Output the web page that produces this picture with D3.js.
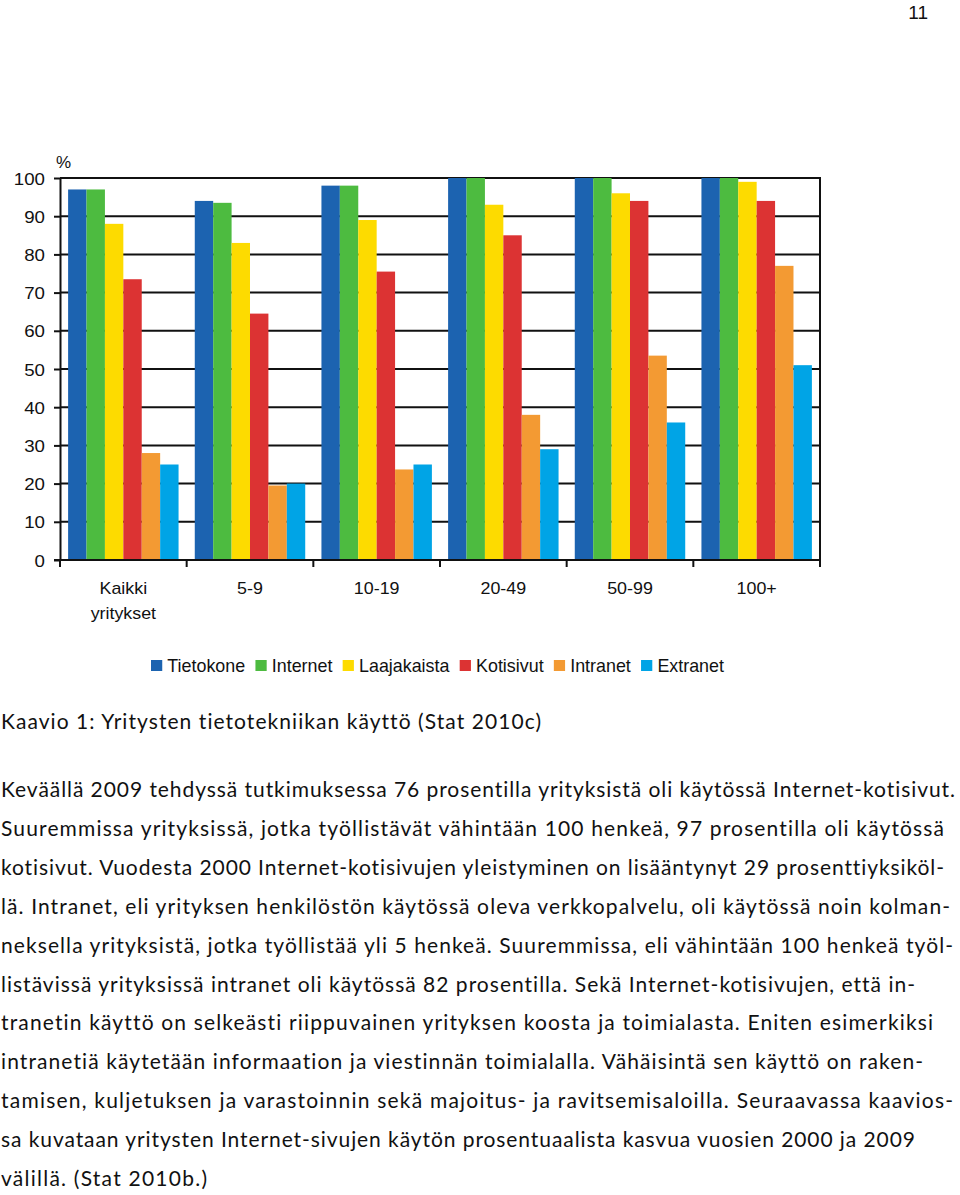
<!DOCTYPE html>
<html>
<head>
<meta charset="utf-8">
<script src="https://cdn.jsdelivr.net/npm/d3@7"></script>
<style>
  html, body { margin: 0; padding: 0; background: #fff; }
  svg { display: block; }
  .prose { font-variant-ligatures: none; font-feature-settings: "liga" 0, "clig" 0, "dlig" 0; }
</style>
</head>
<body>
<div id="chart"></div>
<script>
// ---------- data ----------
const categories = ["Kaikki yritykset", "5-9", "10-19", "20-49", "50-99", "100+"];
const seriesNames = ["Tietokone", "Internet", "Laajakaista", "Kotisivut", "Intranet", "Extranet"];
const tietokone   = [97, 94, 98, 100, 100, 100];
const internet    = [97, 93.5, 98, 100, 100, 100];
const laajakaista = [88, 83, 89, 93, 96, 99];
const kotisivut   = [73.5, 64.5, 75.5, 85, 94, 94];
const intranet    = [28, 19.5, 23.7, 38, 53.5, 77];
const extranet    = [25, 20, 25, 29, 36, 51];
const yTicks = [0, 10, 20, 30, 40, 50, 60, 70, 80, 90, 100];
const colors = ["#1c63b0", "#4dbb40", "#fddb00", "#dc3333", "#f39a33", "#00a4e6"];

const caption = "Kaavio 1: Yritysten tietotekniikan käyttö (Stat 2010c)";
const bodyLines = [
  "Keväällä 2009 tehdyssä tutkimuksessa 76 prosentilla  yrityksistä oli käytössä Internet-kotisivut.",
  "Suuremmissa yrityksissä, jotka työllistävät vähintään 100 henkeä, 97 prosentilla oli käytössä",
  "kotisivut. Vuodesta 2000 Internet-kotisivujen yleistyminen on lisääntynyt 29 prosenttiyksiköl-",
  "lä. Intranet, eli yrityksen henkilöstön käytössä oleva verkkopalvelu, oli käytössä noin kolman-",
  "neksella yrityksistä, jotka työllistää yli 5 henkeä. Suuremmissa, eli vähintään 100 henkeä työl-",
  "listävissä yrityksissä intranet oli käytössä 82 prosentilla. Sekä Internet-kotisivujen, että in-",
  "tranetin käyttö on selkeästi riippuvainen yrityksen koosta ja toimialasta. Eniten esimerkiksi",
  "intranetiä käytetään informaation ja viestinnän toimialalla. Vähäisintä sen käyttö on raken-",
  "tamisen, kuljetuksen ja varastoinnin sekä majoitus- ja ravitsemisaloilla. Seuraavassa kaavios-",
  "sa kuvataan yritysten Internet-sivujen käytön prosentuaalista kasvua vuosien 2000 ja 2009",
  "välillä. (Stat 2010b.)"
];
const pageNumber = "11";

// ---------- layout ----------
const W = 960, H = 1195;
const plot = { left: 60, right: 820, top: 178, bottom: 560 };
const lineWidths = [955, 944, 944, 950, 953, 915, 933, 923, 953, 915, 207];

const seriesValues = [tietokone, internet, laajakaista, kotisivut, intranet, extranet];
const table = categories.map((c, i) => ({
  category: c,
  values: seriesNames.map((s, j) => ({ key: s, value: seriesValues[j][i], color: colors[j] }))
}));

const svg = d3.select("#chart").append("svg")
  .attr("width", W).attr("height", H)
  .attr("viewBox", `0 0 ${W} ${H}`);

svg.append("rect").attr("width", W).attr("height", H).attr("fill", "#fff");

const chartFont = "'Liberation Sans', Arial, sans-serif";
const textFont = "Lato, 'Noto Sans', sans-serif";

const x0 = d3.scaleBand().domain(categories)
  .range([plot.left, plot.right]).paddingInner(0.128).paddingOuter(0.064);
const x1 = d3.scaleBand().domain(seriesNames).range([0, x0.bandwidth()]);
const y = d3.scaleLinear().domain([0, 100]).range([plot.bottom, plot.top]);

// gridlines
svg.append("g").selectAll("line").data(yTicks.filter(t => t > 0)).join("line")
  .attr("x1", plot.left).attr("x2", plot.right)
  .attr("y1", d => y(d)).attr("y2", d => y(d))
  .attr("stroke", "#111").attr("stroke-width", 2);
// right border
svg.append("line").attr("x1", plot.right).attr("x2", plot.right)
  .attr("y1", plot.top - 1).attr("y2", plot.bottom)
  .attr("stroke", "#111").attr("stroke-width", 2);

// bars
const groups = svg.append("g").selectAll("g").data(table).join("g")
  .attr("transform", d => `translate(${x0(d.category)},0)`);
groups.selectAll("rect").data(d => d.values).join("rect")
  .attr("x", d => x1(d.key))
  .attr("width", x1.bandwidth())
  .attr("y", d => y(d.value))
  .attr("height", d => y(0) - y(d.value))
  .attr("fill", d => d.color);

// y axis
const yAxis = svg.append("g").attr("transform", `translate(${plot.left},0)`)
  .call(d3.axisLeft(y).tickValues(yTicks).tickSize(6).tickPadding(0).tickSizeOuter(0));
yAxis.select(".domain").attr("stroke", "#111").attr("stroke-width", 2);
yAxis.selectAll(".tick line").attr("stroke", "#111").attr("stroke-width", 2);
yAxis.selectAll(".tick text")
  .attr("font-family", chartFont).attr("font-size", 17).attr("fill", "#111")
  .attr("x", 0)
  .attr("transform", "translate(-15,0) scale(1.1,1)")
  .attr("dy", "0.36em");

// x axis baseline + ticks at band boundaries
svg.append("line").attr("x1", plot.left - 6).attr("x2", plot.right)
  .attr("y1", plot.bottom).attr("y2", plot.bottom)
  .attr("stroke", "#111").attr("stroke-width", 2);
const boundaries = d3.range(categories.length + 1).map(i => plot.left + i * x0.step());
svg.append("g").selectAll("line").data(boundaries).join("line")
  .attr("x1", d => d).attr("x2", d => d)
  .attr("y1", plot.bottom).attr("y2", plot.bottom + 7)
  .attr("stroke", "#111").attr("stroke-width", 2);

// x labels
const xl = svg.append("g").selectAll("text").data(categories).join("text")
  .attr("font-family", chartFont).attr("font-size", 17).attr("fill", "#111")
  .attr("text-anchor", "middle")
  .attr("transform", d => `translate(${x0(d) + x0.bandwidth() / 2},594) scale(1.05,1)`);
xl.each(function (d) {
  const parts = d.split(" ");
  d3.select(this).selectAll("tspan").data(parts).join("tspan")
    .attr("x", 0).attr("dy", (p, i) => i === 0 ? 0 : 25).text(p => p);
});

// % label
svg.append("text").attr("x", 56).attr("y", 168)
  .attr("font-family", chartFont).attr("font-size", 17).attr("fill", "#111")
  .text("%");

// legend
const legend = svg.append("g");
const items = legend.selectAll("g").data(seriesNames).join("g");
items.append("rect").attr("width", 11).attr("height", 11).attr("y", -12)
  .attr("fill", (d, i) => colors[i]);
items.append("text").attr("x", 16).attr("y", 0)
  .attr("font-family", chartFont).attr("font-size", 17.5).attr("fill", "#111")
  .text(d => d);
let cx = 0;
items.each(function () {
  const g = d3.select(this);
  const w = 16 + g.select("text").node().getComputedTextLength();
  g.attr("transform", `translate(${cx},0)`);
  cx += w + 10;
});
const legendW = cx - 10;
const legendScale = (724 - 151) / legendW;
legend.attr("transform", `translate(151,672) scale(${legendScale},1)`);

// page number
svg.append("text").attr("x", 928).attr("y", 19).attr("text-anchor", "end")
  .attr("font-family", chartFont).attr("font-size", 19).attr("fill", "#111")
  .text(pageNumber);

// caption
svg.append("text").attr("class", "prose").attr("x", 1).attr("y", 729)
  .attr("font-family", textFont).attr("font-size", 21).attr("fill", "#111")
  .attr("textLength", 540).attr("lengthAdjust", "spacing")
  .text(caption);

// body text
svg.append("g").selectAll("text").data(bodyLines).join("text")
  .attr("class", "prose")
  .attr("x", 1).attr("y", (d, i) => 797 + i * 38.9)
  .attr("font-family", textFont).attr("font-size", 21).attr("fill", "#111")
  .attr("textLength", (d, i) => lineWidths[i] - 1).attr("lengthAdjust", "spacing")
  .text(d => d);
</script>
</body>
</html>
